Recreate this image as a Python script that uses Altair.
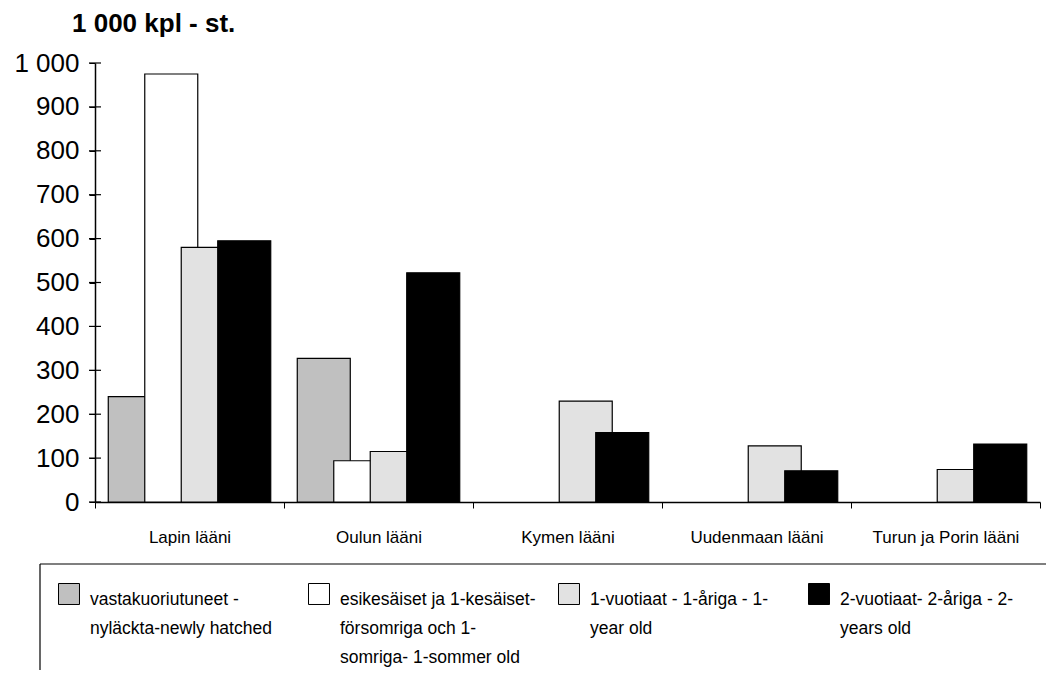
import altair as alt
import pandas as pd

regions = ["Lapin lääni", "Oulun lääni", "Kymen lääni", "Uudenmaan lääni", "Turun ja Porin lääni"]
series = [
    "vastakuoriutuneet -|nyläckta-newly hatched",
    "esikesäiset ja 1-kesäiset-|försomriga och 1-|somriga- 1-sommer old",
    "1-vuotiaat - 1-åriga - 1-|year old",
    "2-vuotiaat- 2-åriga - 2-|years old",
]
newly_hatched = [240, 327, None, None, None]
one_summer = [975, 94, None, None, None]
one_year = [580, 115, 230, 128, 74]
two_years = [595, 522, 158, 71, 132]
fills = ["#c0c0c0", "#ffffff", "#e2e2e2", "#000000"]
y_ticks = list(range(0, 1001, 100))
title_text = "1 000 kpl - st."

rows = []
for s, vals in zip(series, [newly_hatched, one_summer, one_year, two_years]):
    for r, v in zip(regions, vals):
        if v is not None:
            rows.append({"region": r, "series": s, "value": v})
df = pd.DataFrame(rows)
legend_df = pd.DataFrame({"series": series})
ticks_df = pd.DataFrame({"value": y_ticks})

color_scale = alt.Scale(domain=series, range=fills)
y_scale = alt.Scale(domain=[0, 1000], nice=False)

bars = alt.Chart(df).mark_bar(width=53, stroke="black", strokeWidth=1.2).encode(
    x=alt.X("region:N", sort=regions, title=None,
            scale=alt.Scale(paddingInner=0, paddingOuter=0),
            axis=alt.Axis(labelAngle=0, tickBand="extent", tickSize=6, tickColor="black",
                          domainColor="black", domainWidth=1.5, labelFont="Liberation Sans",
                          labelFontSize=17, labelColor="black", labelPadding=21)),
    xOffset=alt.XOffset("series:N", sort=series,
                        scale=alt.Scale(paddingInner=0, paddingOuter=0.59)),
    y=alt.Y("value:Q", title=None, scale=y_scale,
            axis=alt.Axis(values=y_ticks, grid=False, tickSize=6,
                          tickColor="black", domainColor="black", domainWidth=1.5,
                          labelFont="Liberation Sans", labelFontSize=26, labelColor="black",
                          labelPadding=10,
                          labelExpr="replace(format(datum.value, ','), ',', ' ')")),
    color=alt.Color("series:N", sort=series, scale=color_scale, legend=None),
)

# inner half of the crossing y-axis ticks
y_cross = alt.Chart(ticks_df).mark_tick(orient="horizontal", size=12, thickness=1.2,
                                        color="black", opacity=1).encode(
    y=alt.Y("value:Q", scale=y_scale),
    x=alt.value(0),
)

legend_x = alt.X("series:N", sort=series, axis=None,
                 scale=alt.Scale(domain=series, range=[-162, 838], paddingInner=0, paddingOuter=0))

legend_sym = alt.Chart(legend_df).mark_square(size=440, opacity=1, stroke="black",
                                               strokeWidth=1, xOffset=11).encode(
    x=legend_x,
    y=alt.value(531),
    fill=alt.Fill("series:N", scale=color_scale, legend=None),
)
legend_txt = alt.Chart(legend_df).mark_text(align="left", baseline="alphabetic", lineBreak="|",
                                            lineHeight=29, font="Liberation Sans", fontSize=17.5,
                                            color="black", xOffset=32).encode(
    x=legend_x,
    y=alt.value(542),
    text="series:N",
)

frame = alt.Data(values=[{"k": 1}])
top_rule = alt.Chart(frame).mark_rule(color="black", strokeWidth=1.2).encode(
    x=alt.value(-55), x2=alt.value(1000), y=alt.value(501))
left_rule = alt.Chart(frame).mark_rule(color="black", strokeWidth=1.2).encode(
    x=alt.value(-55), y=alt.value(501), y2=alt.value(607))
title = alt.Chart(alt.Data(values=[{"t": title_text}])).mark_text(
    align="left", baseline="alphabetic", font="Liberation Sans", fontSize=26,
    fontWeight="bold", color="black").encode(
    x=alt.value(-23), y=alt.value(-31), text="t:N")

chart = alt.layer(bars, y_cross, legend_sym, legend_txt, top_rule, left_rule, title).resolve_scale(
    x="independent"
).properties(
    width=945, height=439,
    autosize=alt.AutoSizeParams(type="none"),
    padding={"left": 87, "top": 55, "right": 6, "bottom": 172},
).configure_view(stroke=None)

chart.save("out.html", embed_options={"renderer": "svg", "actions": False})
